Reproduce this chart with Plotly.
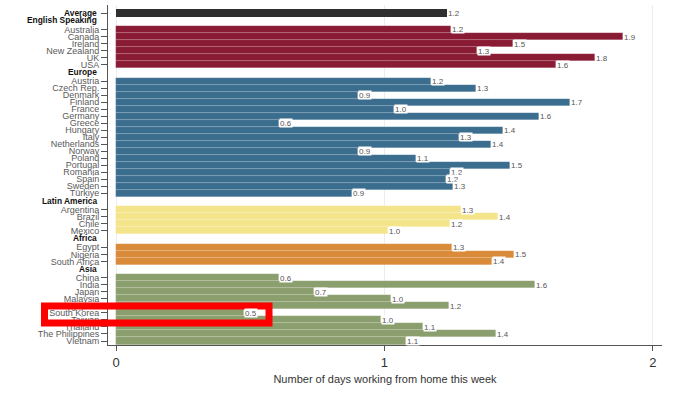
import plotly.graph_objects as go

average_label = "Average"
average_value = 1.232

group_names = ["English Speaking", "Europe", "Latin America", "Africa", "Asia"]

english_countries = ["Australia", "Canada", "Ireland", "New Zealand", "UK", "USA"]
english_values = [1.247, 1.888, 1.480, 1.345, 1.784, 1.638]

europe_countries = ["Austria", "Czech Rep.", "Denmark", "Finland", "France", "Germany",
                    "Greece", "Hungary", "Italy", "Netherlands", "Norway", "Poland",
                    "Portugal", "Romania", "Spain", "Sweden", "Türkiye"]
europe_values = [1.174, 1.341, 0.900, 1.691, 1.034, 1.576, 0.609, 1.443, 1.276, 1.398,
                 0.903, 1.119, 1.469, 1.246, 1.229, 1.257, 0.879]

latam_countries = ["Argentina", "Brazil", "Chile", "Mexico"]
latam_values = [1.284, 1.424, 1.243, 1.015]

africa_countries = ["Egypt", "Nigeria", "South Africa"]
africa_values = [1.253, 1.483, 1.402]

asia_countries = ["China", "India", "Japan", "Malaysia", "Singapore", "South Korea",
                  "Taiwan", "Thailand", "The Philippines", "Vietnam"]
asia_values = [0.607, 1.561, 0.736, 1.025, 1.242, 0.475, 0.988, 1.145, 1.417, 1.080]

highlight_country = "South Korea"
x_title = "Number of days working from home this week"
x_ticks = [0, 1, 2]

colors = {"Average": "#2f2f2f", "English Speaking": "#8a1b35", "Europe": "#3b6d8f",
          "Latin America": "#f4e58b", "Africa": "#d98b39", "Asia": "#8b9e6d"}

groups = [
    ("English Speaking", english_countries, english_values),
    ("Europe", europe_countries, europe_values),
    ("Latin America", latam_countries, latam_values),
    ("Africa", africa_countries, africa_values),
    ("Asia", asia_countries, asia_values),
]

GAP = 2.35
fig = go.Figure()

tickvals, ticktext = [], []
annotations = []
label_font = dict(family="Liberation Sans, Arial", size=8, color="#555555")
header_font = dict(family="Liberation Sans, Arial", size=8.4, color="#111111")

def add_value_labels(ys, vals):
    for y, v in zip(ys, vals):
        annotations.append(dict(x=v, y=y, xref="x", yref="y", text=f"{v:.1f}",
                                showarrow=False, xanchor="left", yanchor="middle",
                                xshift=0, bgcolor="white", borderpad=0, height=8,
                                font=label_font))

# Average
fig.add_trace(go.Bar(y=[0], x=[average_value], orientation="h", width=1,
                     marker=dict(color=colors["Average"], line=dict(width=0)),
                     hoverinfo="skip", showlegend=False))
tickvals.append(0); ticktext.append("")
annotations.append(dict(x=0, y=0, xref="paper", yref="y", text=f"<b>{average_label}</b>",
                        showarrow=False, xanchor="right", yanchor="middle", xshift=-9,
                        font=header_font))
add_value_labels([0], [average_value])

pos = 0.0
highlight_y = None
for name, countries, vals in groups:
    start = pos + GAP
    ys = [start + i for i in range(len(countries))]
    header_y = start - GAP / 2 - 0.15
    fig.add_trace(go.Bar(y=ys, x=vals, orientation="h", width=1,
                         marker=dict(color=colors[name],
                                     line=dict(width=0.6, color="rgba(255,255,255,0.22)")),
                         hoverinfo="skip", showlegend=False))
    tickvals += ys
    ticktext += countries
    annotations.append(dict(x=0, y=header_y, xref="paper", yref="y", text=f"<b>{name}</b>",
                            showarrow=False, xanchor="right", yanchor="middle", xshift=-9,
                            font=header_font))
    add_value_labels(ys, vals)
    if highlight_country in countries:
        highlight_y = ys[countries.index(highlight_country)]
    pos = ys[-1]

fig.update_layout(
    width=680, height=394, autosize=False,
    margin=dict(l=108, r=18, t=5, b=49),
    paper_bgcolor="white", plot_bgcolor="white",
    bargap=0,
    font=dict(family="Liberation Sans, Arial", color="#555555"),
    annotations=annotations,
    xaxis=dict(range=[-0.0298, 2.034], tickvals=x_ticks, ticktext=[str(t) for t in x_ticks],
               showgrid=True, gridcolor="#ececec", gridwidth=1, zeroline=False,
               showline=True, linecolor="#555555", linewidth=1,
               ticks="outside", ticklen=5, tickcolor="#555555",
               tickfont=dict(size=13, color="#333333"),
               title=dict(text=x_title, font=dict(size=11, color="#333333"), standoff=6)),
    yaxis=dict(range=[47.32, -1.14], tickvals=tickvals, ticktext=ticktext,
               showgrid=False, zeroline=False, showline=True, linecolor="#555555",
               linewidth=1, ticks="outside", ticklen=6, tickcolor="#555555",
               tickfont=dict(size=9, color="#5a5a5a")),
    shapes=[dict(type="rect", xref="paper", yref="y",
                 x0=(44.5 - 108) / 554, x1=(269 - 108) / 554,
                 y0=highlight_y - 1.0, y1=highlight_y + 1.45,
                 line=dict(color="#ff0000", width=7), fillcolor="rgba(0,0,0,0)",
                 layer="above")],
)

fig.write_html("out.html",
               config={"displayModeBar": False, "responsive": False},
               post_script="document.body.style.margin='0';")
